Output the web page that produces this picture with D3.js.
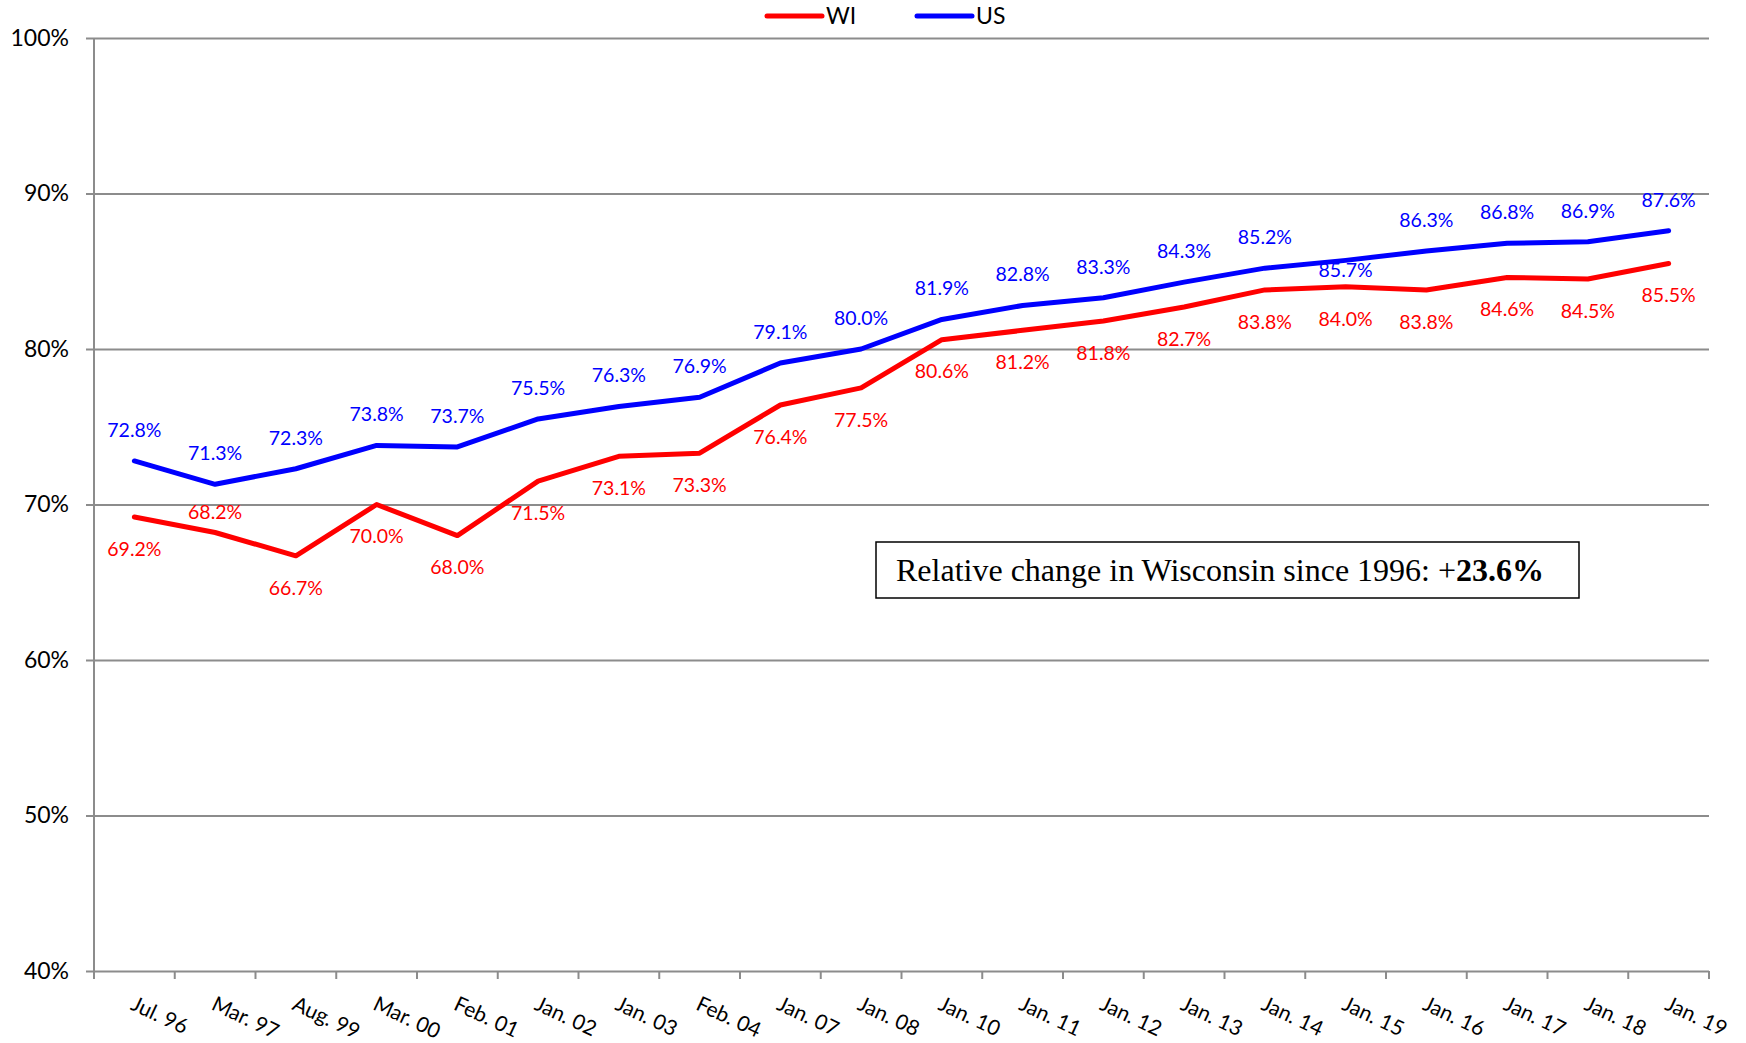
<!DOCTYPE html>
<html>
<head>
<meta charset="utf-8">
<script src="https://cdn.jsdelivr.net/npm/d3@7"></script>
<style>
  body { margin: 0; background: #fff; }
  svg text { font-family: Lato, "Open Sans", sans-serif; }
</style>
</head>
<body>
<svg id="chart" width="1746" height="1043"></svg>
<script>
var categories = ['Jul. 96','Mar. 97','Aug. 99','Mar. 00','Feb. 01','Jan. 02','Jan. 03','Feb. 04','Jan. 07','Jan. 08',
                  'Jan. 10','Jan. 11','Jan. 12','Jan. 13','Jan. 14','Jan. 15','Jan. 16','Jan. 17','Jan. 18','Jan. 19'];
var wiValues = [69.2,68.2,66.7,70.0,68.0,71.5,73.1,73.3,76.4,77.5,80.6,81.2,81.8,82.7,83.8,84.0,83.8,84.6,84.5,85.5];
var usValues = [72.8,71.3,72.3,73.8,73.7,75.5,76.3,76.9,79.1,80.0,81.9,82.8,83.3,84.3,85.2,85.7,86.3,86.8,86.9,87.6];
var yTicks = [40,50,60,70,80,90,100];
var noteText = 'Relative change in Wisconsin since 1996: +';
var noteValue = '23.6%';

var svg = d3.select('#chart');

// plot box (note: "top" is a reserved window prop, so use plot*)
var plotLeft = 94, plotRight = 1709, plotTop = 38, plotBottom = 971;

var x = d3.scaleBand().domain(categories).range([plotLeft, plotRight]);
var y = d3.scaleLinear().domain([40, 100]).range([plotBottom, plotTop]);
var cx = function(i) { return x(categories[i]) + x.bandwidth() / 2; };

// gridlines + y labels
var yAxis = svg.append('g')
  .attr('transform', 'translate(' + (plotLeft - 8) + ',0)')
  .call(d3.axisLeft(y).tickValues(yTicks).tickSize(-(plotRight - plotLeft + 8)).tickPadding(17)
          .tickFormat(function(d) { return d + '%'; }));
yAxis.select('.domain').remove();
yAxis.selectAll('line').attr('stroke', '#8c8c8c').attr('stroke-width', 2);
yAxis.selectAll('text').attr('font-size', 23).attr('fill', '#000')
  .style('font-family', 'Lato, sans-serif');

// vertical axis line
svg.append('line')
  .attr('x1', plotLeft).attr('x2', plotLeft).attr('y1', plotTop).attr('y2', plotBottom + 8)
  .attr('stroke', '#8c8c8c').attr('stroke-width', 2);

// x ticks at band boundaries
var bounds = categories.map(function(c) { return x(c); }).concat([plotRight]);
svg.append('g').selectAll('line').data(bounds).enter().append('line')
  .attr('x1', function(d) { return d; }).attr('x2', function(d) { return d; })
  .attr('y1', plotBottom).attr('y2', plotBottom + 8)
  .attr('stroke', '#8c8c8c').attr('stroke-width', 2);

// x labels, rotated
svg.append('g').selectAll('text').data(categories).enter().append('text')
  .attr('transform', function(d, i) { return 'translate(' + (cx(i) - 5) + ',' + (plotBottom + 38) + ') rotate(25)'; })
  .attr('font-size', 21).attr('fill', '#000')
  .text(function(d) { return d; });

var line = d3.line()
  .x(function(d, i) { return cx(i); })
  .y(function(d) { return y(d); });

var series = [
  { name: 'WI', values: wiValues, color: '#ff0000', below: true },
  { name: 'US', values: usValues, color: '#0000ff', below: false }
];

series.forEach(function(s) {
  svg.append('path')
    .datum(s.values)
    .attr('d', line)
    .attr('fill', 'none')
    .attr('stroke', s.color)
    .attr('stroke-width', 5)
    .attr('stroke-linejoin', 'round')
    .attr('stroke-linecap', 'round');

  svg.append('g').selectAll('text').data(s.values).enter().append('text')
    .attr('x', function(d, i) { return cx(i); })
    .attr('y', function(d, i) {
      var off = s.below ? 32 : -31;
      // a couple of labels were nudged by hand in the original
      if (!s.below && categories[i] === 'Jan. 15') off = 10;
      if (s.below && categories[i] === 'Mar. 97') off = -20;
      return y(d) + off;
    })
    .attr('dy', '0.35em')
    .attr('text-anchor', 'middle')
    .attr('font-size', 19.5)
    .attr('fill', s.color)
    .text(function(d) { return d.toFixed(1) + '%'; });
});

// legend
var legendX = [767, 917];
series.forEach(function(s, i) {
  var g = svg.append('g').attr('transform', 'translate(' + legendX[i] + ',16)');
  g.append('line').attr('x1', 0).attr('x2', 55).attr('y1', 0).attr('y2', 0)
    .attr('stroke', s.color).attr('stroke-width', 5).attr('stroke-linecap', 'round');
  g.append('text').attr('x', 59).attr('y', 8).attr('font-size', 23).attr('fill', '#000').text(s.name);
});

// annotation box
svg.append('rect')
  .attr('x', 876).attr('y', 542).attr('width', 703).attr('height', 56)
  .attr('fill', '#fff').attr('stroke', '#000').attr('stroke-width', 1.5);
var note = svg.append('text')
  .attr('x', 896).attr('y', 581)
  .attr('font-size', 32)
  .style('font-family', '"Liberation Serif", "Times New Roman", serif')
  .attr('fill', '#000');
note.append('tspan').text(noteText);
note.append('tspan').attr('font-weight', 'bold').text(noteValue);
</script>
</body>
</html>
